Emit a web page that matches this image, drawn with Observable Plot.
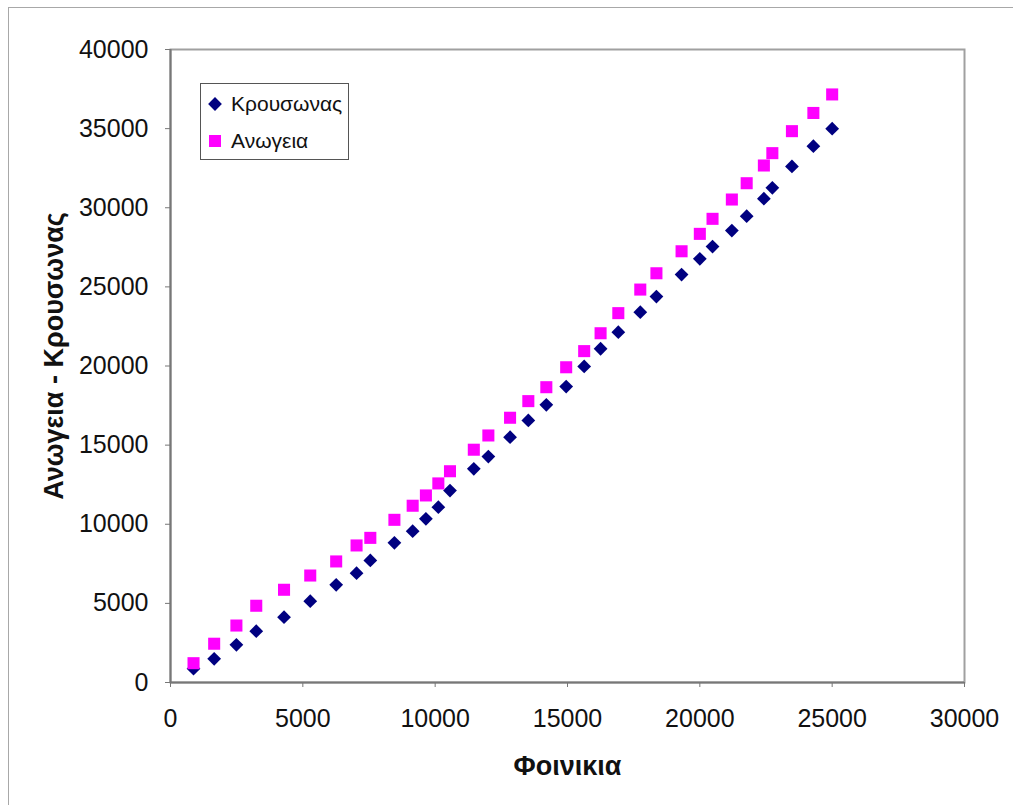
<!DOCTYPE html>
<html>
<head>
<meta charset="utf-8">
<script src="https://cdn.jsdelivr.net/npm/d3@7"></script>
<script src="https://cdn.jsdelivr.net/npm/@observablehq/plot@0.6"></script>
<style>
  html, body { margin: 0; padding: 0; background: #fff; overflow: hidden; }
  #wrap { position: relative; width: 1013px; height: 805px; font-family: "Liberation Sans", Arial, sans-serif; }
  #border { position: absolute; left: 8px; top: 7px; width: 1030px; height: 830px; border: 1px solid #a8a8a8; pointer-events: none; }
  #legend { position: absolute; left: 200px; top: 83px; width: 147px; height: 75px; border: 1px solid #555; background: #fff; }
  .item { position: absolute; left: 0; height: 30px; display: flex; align-items: center; font-size: 21px; color: #111; }
  .item svg { margin-left: 6px; margin-right: 8px; }
</style>
</head>
<body>
<div id="wrap">
  <div id="chart"></div>
  <div id="legend"></div>
  <div id="border"></div>
</div>
<script>
// Households (Φοινικια) against the two villages' figures
const phoinikia = [870, 1650, 2490, 3240, 4290, 5280, 6260, 7030, 7550, 8460,
  9150, 9650, 10120, 10560, 11460, 12010, 12830, 13520, 14200, 14950,
  15630, 16250, 16920, 17750, 18360, 19310, 20000, 20480, 21210, 21770,
  22420, 22740, 23480, 24290, 25000];
const krousonas = [870, 1500, 2380, 3240, 4130, 5140, 6170, 6910, 7710, 8830,
  9560, 10340, 11080, 12130, 13500, 14280, 15500, 16560, 17550, 18700,
  19970, 21090, 22140, 23400, 24390, 25780, 26770, 27550, 28560, 29470,
  30570, 31260, 32610, 33890, 35000];
const anogeia = [1220, 2450, 3600, 4850, 5860, 6760, 7650, 8660, 9140, 10280,
  11170, 11820, 12580, 13350, 14710, 15610, 16730, 17780, 18660, 19920,
  20940, 22070, 23340, 24830, 25860, 27250, 28350, 29300, 30520, 31550,
  32670, 33450, 34840, 35990, 37160];

const xTicks = [0, 5000, 10000, 15000, 20000, 25000, 30000];
const yTicks = [0, 5000, 10000, 15000, 20000, 25000, 30000, 35000, 40000];

const seriesNames = ["Κρουσωνας", "Ανωγεια"];
const seriesColors = ["#000080", "#ff00ff"];
const seriesSymbols = ["diamond2", "square"];
const xTitle = "Φοινικια";
const yTitle = "Ανωγεια - Κρουσωνας";

const rows = phoinikia.map((x, i) => ({x, k: krousonas[i], a: anogeia[i]}));

const chart = Plot.plot({
  width: 1013,
  height: 805,
  marginLeft: 170,
  marginTop: 49,
  marginRight: 49,
  marginBottom: 123,
  style: {fontFamily: "Liberation Sans, Arial, sans-serif", fontSize: "25px", color: "#111", background: "#fff"},
  x: {domain: [0, 30000]},
  y: {domain: [0, 40000]},
  marks: [
    Plot.frame({stroke: "#a0a0a0", strokeWidth: 2}),
    Plot.axisX({ticks: xTicks, tickFormat: d => String(d), tickSize: 5, tickPadding: 22, stroke: "#777", label: null, fontSize: 25}),
    Plot.axisY({ticks: yTicks, tickFormat: d => String(d), tickSize: 5, tickPadding: 17, stroke: "#777", label: null, fontSize: 25}),
    Plot.ruleX([0], {stroke: "#777", strokeWidth: 2}),
    Plot.ruleY([0], {stroke: "#777", strokeWidth: 2}),
    Plot.dot(rows, {x: "x", y: "k", symbol: seriesSymbols[0], r: 6.2, fill: seriesColors[0], stroke: null}),
    Plot.dot(rows, {x: "x", y: "a", symbol: seriesSymbols[1], r: 6.8, fill: seriesColors[1], stroke: null}),
    Plot.text([xTitle], {frameAnchor: "bottom", lineAnchor: "middle", textAnchor: "middle", dy: 84, fontWeight: "bold", fontSize: 27, fill: "#111"}),
    Plot.text([yTitle], {frameAnchor: "left", lineAnchor: "middle", textAnchor: "middle", dx: -116, dy: -10, rotate: -90, fontWeight: "bold", fontSize: 27, fill: "#111"})
  ]
});
document.getElementById("chart").appendChild(chart);

// Legend box with the same symbols as the plotted series
const legend = document.getElementById("legend");
const d3Symbols = [d3.symbolDiamond2, d3.symbolSquare];
const radii = [6.2, 6.8];
seriesNames.forEach((name, i) => {
  const item = document.createElement("div");
  item.className = "item";
  item.style.top = (i === 0 ? 5 : 42) + "px";
  const size = Math.PI * radii[i] * radii[i];
  item.innerHTML = `<svg width="16" height="16" viewBox="-8 -8 16 16"><path d="${d3.symbol(d3Symbols[i], size)()}" fill="${seriesColors[i]}"></path></svg><span>${name}</span>`;
  legend.appendChild(item);
});
</script>
</body>
</html>
